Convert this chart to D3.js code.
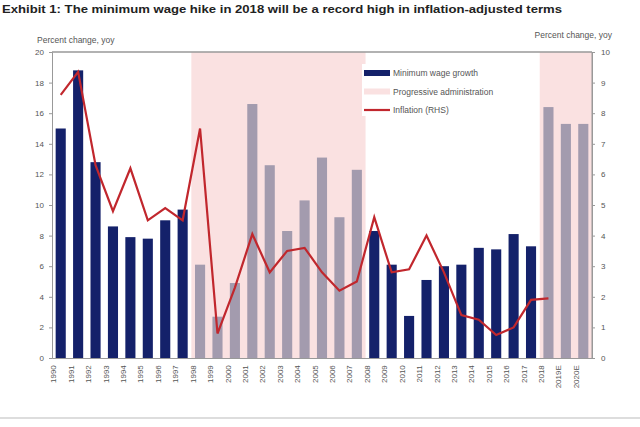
<!DOCTYPE html>
<html>
<head>
<meta charset="utf-8">
<title>Minimum wage</title>
<script src="https://cdn.jsdelivr.net/npm/d3@7"></script>
<style>
  body { margin: 0; background: #fff; }
  text { font-family: "Liberation Sans", Arial, sans-serif; }
</style>
</head>
<body>
<svg id="chart" width="640" height="427"></svg>
<script>
// data
var years = ["1990","1991","1992","1993","1994","1995","1996","1997","1998","1999",
             "2000","2001","2002","2003","2004","2005","2006","2007","2008","2009",
             "2010","2011","2012","2013","2014","2015","2016","2017","2018","2019E","2020E"];
var wageGrowth = [15.0, 18.8, 12.8, 8.6, 7.9, 7.8, 9.0, 9.7, 6.1, 2.7,
                  4.9, 16.6, 12.6, 8.3, 10.3, 13.1, 9.2, 12.3, 8.3, 6.1,
                  2.75, 5.1, 6.0, 6.1, 7.2, 7.1, 8.1, 7.3, 16.4, 15.3, 15.3];
var inflation = [8.6, 9.35, 6.3, 4.8, 6.2, 4.5, 4.9, 4.5, 7.5, 0.8,
                 2.3, 4.05, 2.8, 3.5, 3.6, 2.8, 2.2, 2.5, 4.6, 2.8,
                 2.9, 4.0, 2.8, 1.4, 1.25, 0.75, 1.0, 1.9, 1.95];
// years under a progressive administration
var progressive = [["1998","2007"], ["2018","2020E"]];
var leftTicks = [0,2,4,6,8,10,12,14,16,18,20];
var rightTicks = [0,1,2,3,4,5,6,7,8,9,10];

var svg = d3.select("#chart");
var m = {left: 52, right: 592, top: 52, bottom: 358};

var x = d3.scaleBand().domain(years).range([m.left, m.right]).paddingInner(0.42).paddingOuter(0.21);
var yL = d3.scaleLinear().domain([0, 20]).range([m.bottom, m.top]);
var yR = d3.scaleLinear().domain([0, 10]).range([m.bottom, m.top]);

var navy = "#14216a", grey = "#a39bae", pink = "#fae1e1", red = "#c1272d";

// title
svg.append("text").attr("x", 2).attr("y", 13)
  .attr("font-size", 11.5).attr("font-weight", "bold").attr("fill", "#222")
  .attr("textLength", 560).attr("lengthAdjust", "spacingAndGlyphs")
  .text("Exhibit 1: The minimum wage hike in 2018 will be a record high in inflation-adjusted terms");

svg.append("text").attr("x", 37).attr("y", 43).attr("font-size", 8.5).attr("fill", "#555")
  .text("Percent change, yoy");
svg.append("text").attr("x", 612).attr("y", 38).attr("font-size", 8.5).attr("fill", "#555")
  .attr("text-anchor", "end").text("Percent change, yoy");

// shading
var step = x.step();
svg.selectAll("rect.shade").data(progressive).enter().append("rect")
  .attr("class", "shade")
  .attr("x", function(d) { return x(d[0]) + x.bandwidth() / 2 - step / 2; })
  .attr("width", function(d) {
    var x1 = Math.min(x(d[1]) + x.bandwidth() / 2 + step / 2, m.right);
    return x1 - (x(d[0]) + x.bandwidth() / 2 - step / 2);
  })
  .attr("y", m.top).attr("height", m.bottom - m.top)
  .attr("fill", pink);

// bars
function isProg(yr) {
  var i = years.indexOf(yr);
  return progressive.some(function(p) { return i >= years.indexOf(p[0]) && i <= years.indexOf(p[1]); });
}
svg.selectAll("rect.bar").data(wageGrowth).enter().append("rect")
  .attr("class", "bar")
  .attr("x", function(d, i) { return x(years[i]); })
  .attr("width", x.bandwidth())
  .attr("y", function(d) { return yL(d); })
  .attr("height", function(d) { return m.bottom - yL(d); })
  .attr("fill", function(d, i) { return isProg(years[i]) ? grey : navy; });

// inflation line
var line = d3.line()
  .x(function(d, i) { return x(years[i]) + x.bandwidth() / 2; })
  .y(function(d) { return yR(d); });
svg.append("path").datum(inflation)
  .attr("d", line).attr("fill", "none").attr("stroke", red).attr("stroke-width", 2.2);

// frame
svg.append("line").attr("x1", m.left).attr("x2", m.right).attr("y1", m.top).attr("y2", m.top)
  .attr("stroke", "#999").attr("stroke-width", 1.5);
svg.append("line").attr("x1", m.right).attr("x2", m.right).attr("y1", m.top).attr("y2", m.bottom)
  .attr("stroke", "#999").attr("stroke-width", 1);

// axes
var gl = svg.append("g").attr("transform", "translate(" + m.left + ",0)")
  .call(d3.axisLeft(yL).tickValues(leftTicks).tickSize(3).tickPadding(5));
var gr = svg.append("g").attr("transform", "translate(" + m.right + ",0)")
  .call(d3.axisRight(yR).tickValues(rightTicks).tickSize(3).tickPadding(6));
var gb = svg.append("g").attr("transform", "translate(0," + m.bottom + ")")
  .call(d3.axisBottom(x).tickSize(0).tickPadding(4));
gb.selectAll("text")
  .attr("transform", "rotate(-90)")
  .attr("text-anchor", "end")
  .attr("dx", "-0.4em").attr("dy", "-0.55em")
  .attr("y", 0).attr("x", -4);
[gl, gr, gb].forEach(function(g) {
  g.selectAll(".domain").attr("stroke", "#999");
  g.selectAll(".tick line").attr("stroke", "#999");
  g.selectAll("text").attr("font-size", 8).attr("fill", "#555")
    .attr("font-family", "'Liberation Sans', Arial, sans-serif");
});

// legend
var lg = svg.append("g").attr("transform", "translate(364,64)");
lg.append("rect").attr("x", -2).attr("y", 0).attr("width", 170).attr("height", 52).attr("fill", "#fff");
var items = [
  {label: "Minimum wage growth", type: "bar", color: navy},
  {label: "Progressive administration", type: "bar", color: pink},
  {label: "Inflation (RHS)", type: "line", color: red}
];
items.forEach(function(d, i) {
  var yy = 9 + i * 18.5;
  if (d.type === "bar") {
    lg.append("rect").attr("x", 0).attr("y", yy - 3).attr("width", 26).attr("height", 6).attr("fill", d.color);
  } else {
    lg.append("line").attr("x1", 0).attr("x2", 26).attr("y1", yy).attr("y2", yy)
      .attr("stroke", d.color).attr("stroke-width", 2.2);
  }
  lg.append("text").attr("x", 29).attr("y", yy + 3).attr("font-size", 8.5).attr("fill", "#555").text(d.label);
});

// bottom rule
svg.append("line").attr("x1", 0).attr("x2", 640).attr("y1", 418).attr("y2", 418)
  .attr("stroke", "#ddd").attr("stroke-width", 2);
</script>
</body>
</html>
